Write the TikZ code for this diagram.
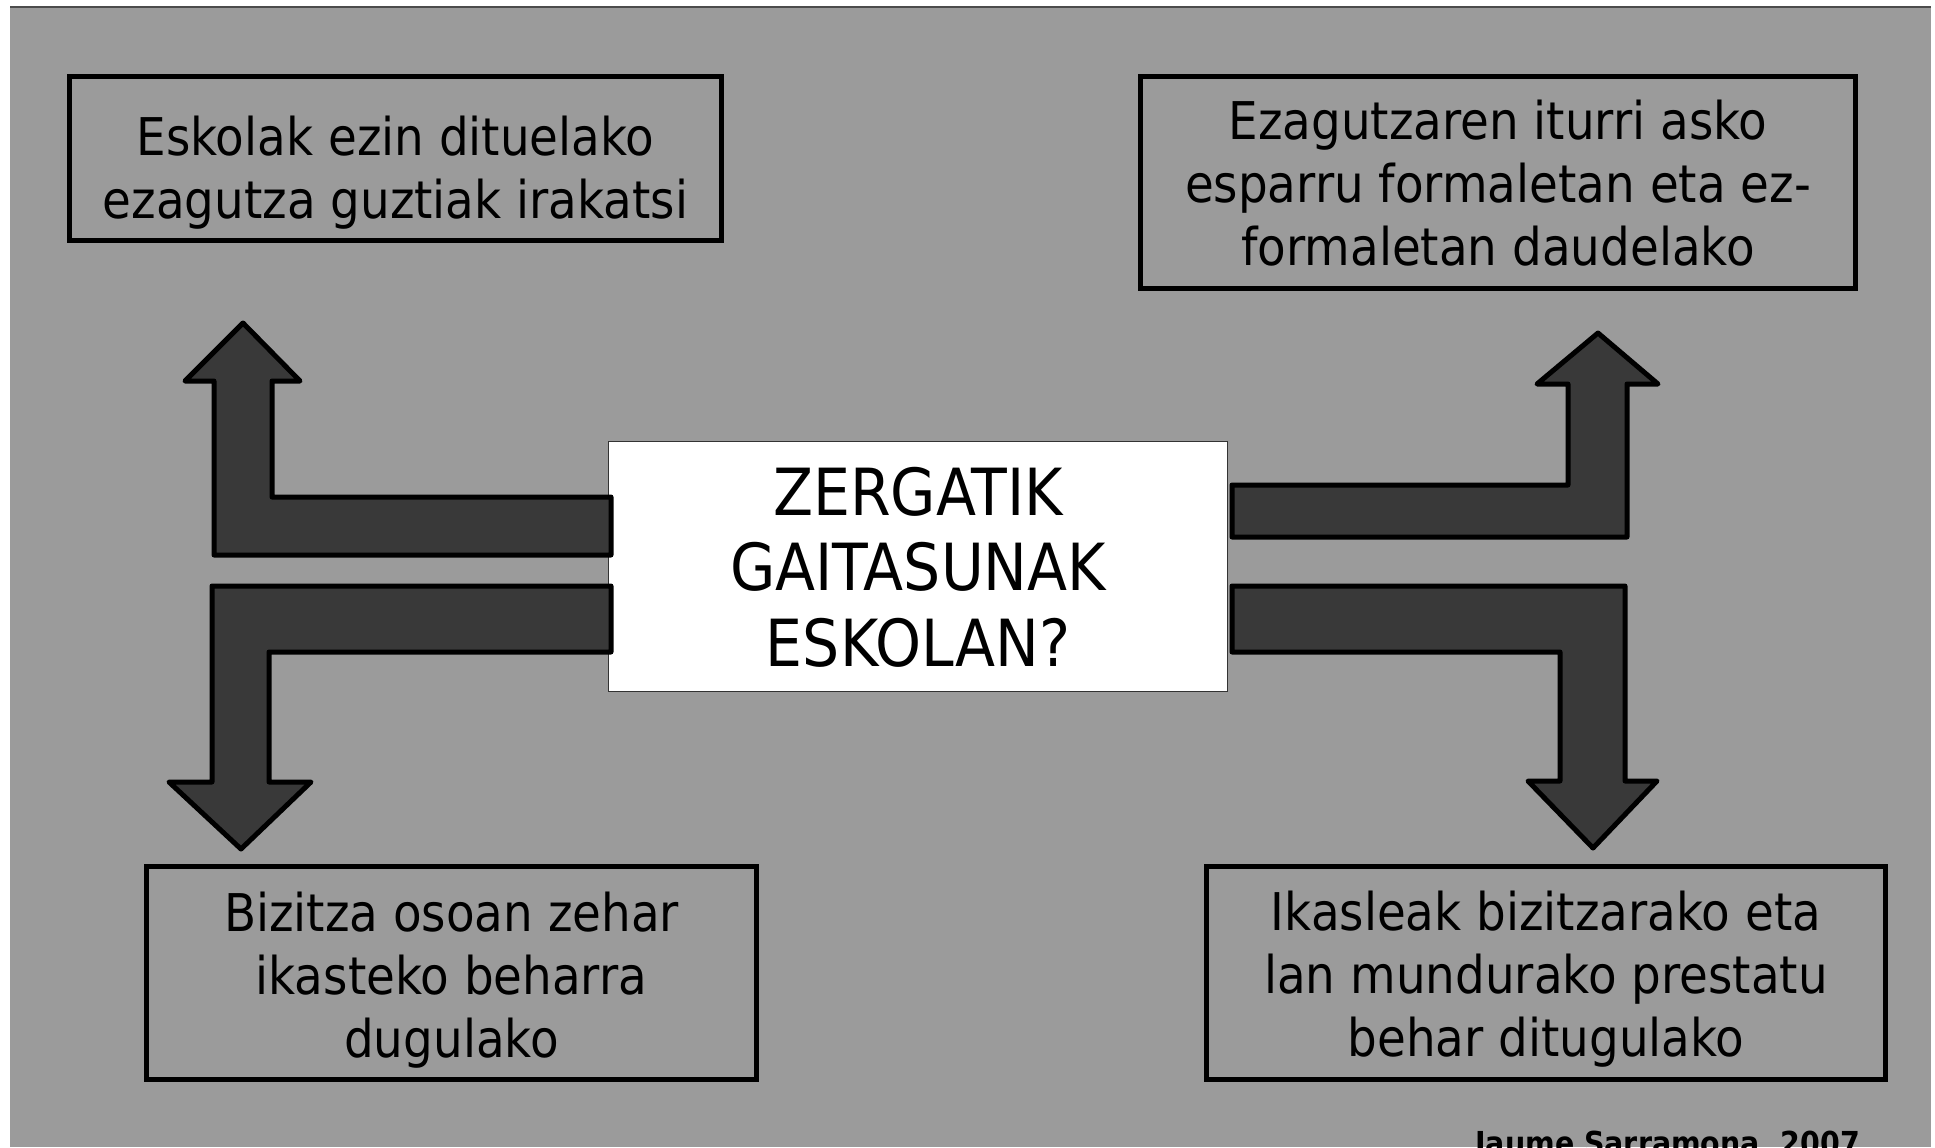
\documentclass[tikz,border=0pt]{standalone}
\usepackage{fontspec}
\setmainfont{DejaVu Sans}[FakeStretch=0.90]
\definecolor{bggray}{HTML}{9B9B9B}
\definecolor{arrowgray}{HTML}{393939}

\begin{document}
\begin{tikzpicture}[x=0.02cm, y=-0.02cm
    , box/.style = {rectangle,draw=black,line width=0.1cm,inner sep=0pt,outer sep=0mm}
    , txt/.style = {align=center,inner sep=0pt,font=\fontsize{29.6}{35.85}\selectfont}
    , blockarrow/.style = {fill=arrowgray,draw=black,line width=0.1cm,line join=round}
]
\useasboundingbox (0,0) rectangle (1935,1147);
\fill[bggray] (10,6) rectangle (1931,1147);
\draw[black!70,line width=0.04cm] (10,7) -- (1931,7);
% centre
\node[box,fill=white,draw=black!80,line width=0.02cm,minimum width=12.4cm,minimum height=5.02cm] (zerg) at (918,566.5) {};
\node[txt,font=\fontsize{37}{43.2}\selectfont] (zergt) at (918,567.3) {ZERGATIK\\GAITASUNAK\\ESKOLAN?};
% arrows out of the centre box
\draw[blockarrow] (611,497) -- (272,497) -- (272,381) -- (300,381) -- (243,323) -- (185,381) -- (214,381) -- (214,555) -- (611,555) -- cycle;
\draw[blockarrow] (611,586) -- (212,586) -- (212,782) -- (169,782) -- (241,849) -- (311,782) -- (269,782) -- (269,652) -- (611,652) -- cycle;
\draw[blockarrow] (1232,485) -- (1568,485) -- (1568,384) -- (1537,384) -- (1598,333) -- (1658,384) -- (1627,384) -- (1627,537) -- (1232,537) -- cycle;
\draw[blockarrow] (1232,586) -- (1625,586) -- (1625,781) -- (1657,781) -- (1593,848) -- (1528,781) -- (1560,781) -- (1560,652) -- (1232,652) -- cycle;
% reasons
\node[box,minimum width=13.06cm,minimum height=3.3cm] (esk) at (395.5,158.5) {};
\node[box,minimum width=14.3cm,minimum height=4.26cm] (ezag) at (1498,182.5) {};
\node[box,minimum width=12.2cm,minimum height=4.28cm] (bizi) at (451.5,973) {};
\node[box,minimum width=13.6cm,minimum height=4.28cm] (ikas) at (1546,973) {};
\node[txt] (eskt) at (395.5,172.9) {Eskolak ezin dituelako\\ezagutza guztiak irakatsi};
\node[txt] (ezagt) at (1498,182.7) {Ezagutzaren iturri asko\\esparru formaletan eta ez-\\formaletan daudelako};
\node[txt] (bizit) at (451.5,980.4) {Bizitza osoan zehar\\ikasteko beharra\\dugulako};
\node[txt] (ikast) at (1546,979.4) {Ikasleak bizitzarako eta\\lan mundurako prestatu\\behar ditugulako};
\node[anchor=base west,inner sep=0pt,font=\bfseries\fontsize{18}{22}\selectfont] (cred) at (1475,1154) {Jaume Sarramona, 2007};
\end{tikzpicture}
\end{document}
